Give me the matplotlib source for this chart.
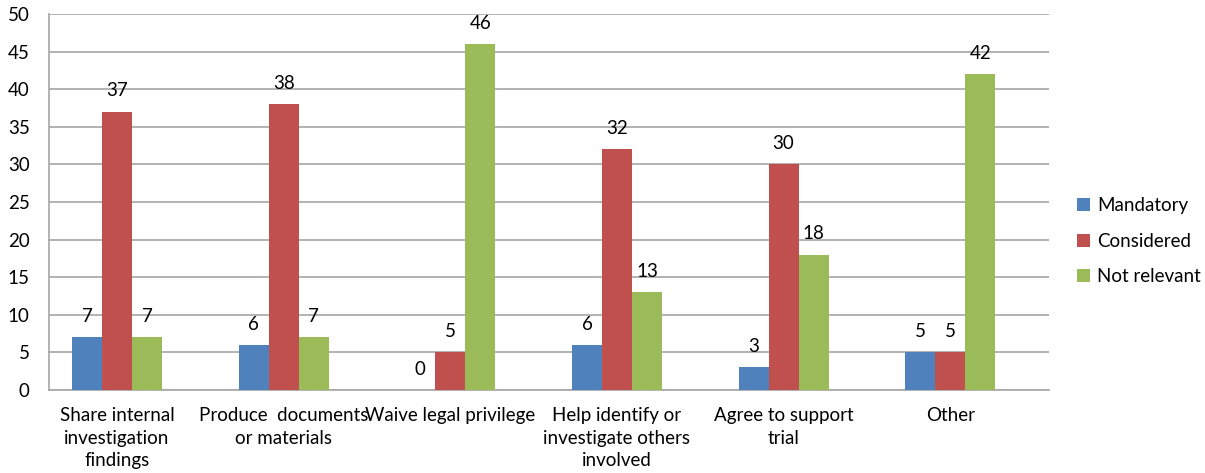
import numpy as np
import matplotlib.pyplot as plt

plt.rcParams['font.family'] = ['Lato', 'DejaVu Sans']

# data
categories = ['Share internal\ninvestigation\nfindings',
              'Produce  documents\nor materials',
              'Waive legal privilege',
              'Help identify or\ninvestigate others\ninvolved',
              'Agree to support\ntrial',
              'Other']
mandatory = [7, 6, 0, 6, 3, 5]
considered = [37, 38, 5, 32, 30, 5]
not_relevant = [7, 7, 46, 13, 18, 42]

series = [('Mandatory', mandatory, '#4F81BD'),
          ('Considered', considered, '#C0504D'),
          ('Not relevant', not_relevant, '#9BBB59')]

fs = 13.5

fig = plt.figure(figsize=(12.05, 4.73), dpi=100)
ax = fig.add_axes([0.0407, 0.1755, 0.83, 0.7949])

x = np.arange(len(categories))
w = 0.18
for i, (name, vals, col) in enumerate(series):
    pos = x + (i - 1) * w
    ax.bar(pos, vals, width=w, color=col, label=name, zorder=3)
    for p, v in zip(pos, vals):
        ax.annotate(str(v), (p, v), xytext=(0, 15), textcoords='offset points',
                    ha='center', va='center', fontsize=fs, color='black')

ax.set_xlim(-0.408, 5.594)
ax.set_ylim(0, 50)
ax.set_yticks(range(0, 51, 5))
ax.set_xticks(x)
ax.set_xticklabels(categories, fontsize=fs, linespacing=1.42)
ax.tick_params(axis='x', length=0, pad=12)
ax.tick_params(axis='y', length=0, pad=14, labelsize=fs)
ax.grid(axis='y', color='#A6A6A6', linewidth=1.2, zorder=0)
for s in ['top', 'right']:
    ax.spines[s].set_visible(False)
for s in ['left', 'bottom']:
    ax.spines[s].set_color('#A6A6A6')
    ax.spines[s].set_linewidth(1.2)

fig.legend(loc='center left', bbox_to_anchor=(0.894, 0.49), frameon=False,
           borderaxespad=0, borderpad=0,
           fontsize=fs, handlelength=0.7, handleheight=0.7,
           handletextpad=0.35, labelspacing=1.0)

fig.savefig('out.png', dpi=100)
